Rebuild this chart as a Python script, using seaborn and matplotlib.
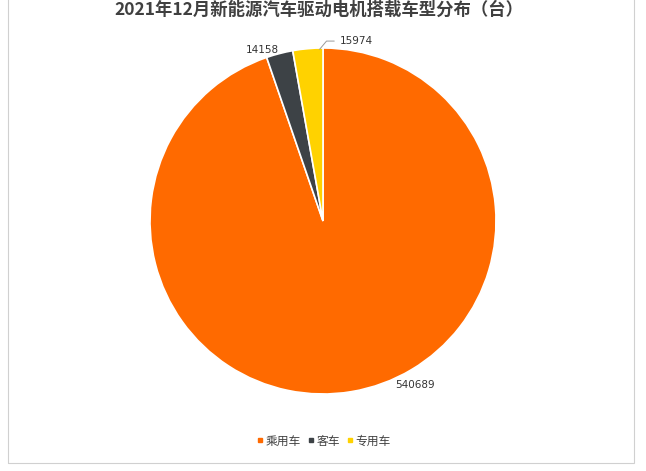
import seaborn as sns
import matplotlib.pyplot as plt
import numpy as np
from matplotlib.patches import Rectangle

categories = ['乘用车', '客车', '专用车']
values = [540689, 14158, 15974]
colors = ['#FF6A00', '#3D4246', '#FFD200']
title = '2021年12月新能源汽车驱动电机搭载车型分布（台）'

sns.set_theme(style='white')
plt.rcParams['font.family'] = ['Noto Sans CJK SC', 'DejaVu Sans']

fig = plt.figure(figsize=(6.46, 4.71), dpi=100)
ax = fig.add_axes([(150 / 646), 1 - 394 / 471, 346 / 646, 346 / 471])

wedges, _ = ax.pie(values, colors=colors, startangle=90, counterclock=False,
                   wedgeprops=dict(edgecolor='white', linewidth=1.2))
ax.set_xlim(-1, 1)
ax.set_ylim(-1, 1)
ax.set_aspect('equal')

# data labels (Excel style placement)
ax.text(0.53, -0.95, f'{values[0]}', fontsize=7.5, color='#333333',
        ha='center', va='center', family='DejaVu Sans')
ax.text(-0.35, 0.99, f'{values[1]}', fontsize=7.5, color='#333333',
        ha='center', va='center', family='DejaVu Sans')
ax.annotate(f'{values[2]}', xy=(-0.03, 0.98), xytext=(0.1, 1.04),
            fontsize=7.5, color='#333333', ha='left', va='center',
            family='DejaVu Sans', annotation_clip=False,
            arrowprops=dict(arrowstyle='-', color='#999999', lw=0.7,
                            connectionstyle='angle,angleA=0,angleB=50'))

handles = [plt.Line2D([], [], marker='s', linestyle='', markersize=3.5,
                      color=c) for c in colors]
fig.legend(handles, categories, loc='center', bbox_to_anchor=(0.5, 1 - 441 / 471),
           ncol=3, frameon=False, fontsize=8.5, handletextpad=0.1,
           handlelength=0.8, columnspacing=0.4, labelcolor='#404040')

fig.text(0.493, 1 - 10 / 471, title, fontsize=12.5, fontweight='bold',
         ha='center', va='center', color='#404040')

fig.patches.append(Rectangle((8 / 646, 1 - 463 / 471), 626 / 646, 1.0,
                             transform=fig.transFigure, fill=False,
                             edgecolor='#D0D0D0', linewidth=0.8))

fig.savefig('out.png', dpi=100)
